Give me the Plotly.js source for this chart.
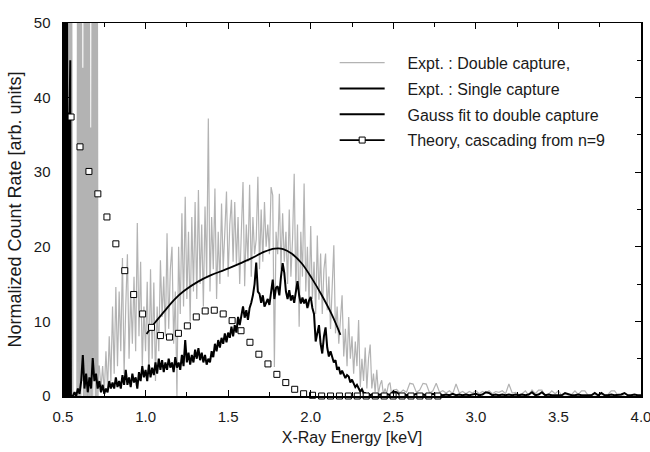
<!DOCTYPE html>
<html>
<head>
<meta charset="utf-8">
<script src="https://cdn.plot.ly/plotly-3.0.1.min.js"></script>
<style>html,body{margin:0;padding:0;background:#fff;}#chart{width:650px;height:452px;}</style>
</head>
<body>
<div id="chart"></div>
<script>
// Spectrum channels: low-energy part every 0.004 keV, main part every 0.01 keV, tail every 0.02 keV
const grayLowStart = 0.500, lowStep = 0.004;
const grayLowCounts = [
  60, 0, 60, 0, 60, 0, 60, 0, 60, 0, 60, 0, 60,
  60, 0,
  0, 0, 0.5, 0, 0, 0.5, 0,
  60, 0, 60, 0, 60, 0, 60, 2, 44, 0, 60, 0, 60, 0, 60, 0,
  60, 0, 60, 0, 36, 0, 60, 0, 60, 3, 60, 0, 60, 0, 60, 0,
  4
];
const grayMainStart = 0.72, mainStep = 0.01;
const grayMainCounts = [
  4, 1, 4, 0.5, 6, 1, 8, 2,
  12, 3, 14.6, 4, 14, 6, 18.5, 3, 12, 19,
  5, 14, 7, 16, 6, 23.2, 8, 18, 4, 12,
  6, 15.3, 3, 17, 5, 15.2, 2, 12, 6, 18.2,
  10.6, 16, 8, 21.8, 9, 17, 20, 7, 14, 0,
  20, 11, 24.5, 12, 26.7, 13, 22, 10, 24, 14,
  26, 13, 27.6, 15, 23, 12, 25.4, 16, 37.2, 14,
  24, 17, 27.8, 13, 22, 15, 25.8, 17, 22, 27.4,
  16, 23, 26.3, 18, 26, 17.6, 24, 15, 22, 28.7,
  14.7, 23, 18, 28.3, 16, 24, 19, 21, 29.4, 17,
  25, 18, 26, 20, 23, 19, 28, 26.9, 3.9, 22,
  19, 27.1, 17, 24.5, 18, 22, 15, 25, 16, 21,
  29.8, 14, 23, 9.3, 22, 16, 28.5, 14, 20, 12,
  22.8, 13, 18, 11, 21.5, 12.9, 19.1, 11, 17, 19.1,
  11.5, 16, 9, 14, 20.2, 8.4, 12, 7, 11, 13.5,
  5.3, 9, 4, 10.6, 5, 8, 3, 7.3, 4, 10.2,
  1.2, 5, 2, 6.5, 1, 5, 6.9, 1, 3, 0.5,
  3.5, 0.3, 1.5, 2.1, 0.2, 1, 0.3, 1.5, 1.8, 0.2,
  0.8
];
const grayTailStart = 2.52, tailStep = 0.02;
const grayTailCounts = [
  0.9, 0.4, 0.8, 0.5, 1.7, 1.6, 0.5, 0.8, 1.7, 1.6,
  0.4, 0.7, 1.7, 0.5, 0.7, 0.4, 0.7, 0.3, 1.6, 0.4,
  0.6, 0.3, 0.6, 0.4, 0.7, 0.3, 0.6, 0.4, 0.7, 0.3,
  0.6, 0.5, 0.7, 0.3, 1.6, 0.4, 0.5, 0.2, 0.3, 0.7,
  0.1, 0.8, 0.3, 0.8, 0.8, 0.1, 0.2, 0.7, 0.3, 0.7,
  0.1, 0.2, 0.1, 0.2, 0.7, 0.2, 0.7, 0.7, 0.1, 0.2,
  0.1, 0.1, 0.2, 0.1, 0.2, 0.7, 0.7, 0.1, 0.1, 0.1
];
const blackLowStart = 0.500;
const blackLowCounts = [60, 0, 60, 0, 60, 0, 60, 0, 38, 0, 38, 45, 0];
const blackMainStart = 0.55;
const blackMainCounts = [
  0, 0, 0.5, 0, 1,
  0.3, 2, 5.5, 1, 3, 0.5, 2.5, 1, 5.1, 2,
  3, 1, 2, 0.5, 1.5, 0.3, 1, 0.5, 2, 1,
  1.8, 1, 2.5, 1.2, 2, 1, 2.8, 1.5, 3.5, 1.5,
  2.5, 1.2, 3, 1.8, 2.5, 1, 3.2, 2, 4, 2.5,
  3.5, 2, 4.2, 2.5, 3.8, 2.8, 4.5, 3, 5, 3.5,
  4.8, 3.2, 4.5, 3.5, 5, 3.8, 4.5, 3.2, 5.2, 3.8,
  4.5, 3.5, 5.5, 4, 7.5, 4.5, 5.8, 4.2, 5.5, 4.5,
  6.2, 5, 6.4, 4.8, 5.8, 4.5, 5.5, 4.2, 5, 4.5,
  6, 5.2, 7, 6, 7.5, 6.5, 7.8, 7, 8.4, 7.2,
  8.5, 7.8, 9.3, 8, 9.5, 8.5, 10.6, 9.5, 11, 12,
  10.5, 11.5, 10.2, 11.8, 12.5, 13.5, 15, 17.9, 14, 13.7,
  12.5, 13.5, 12, 12.5, 13, 12.2, 14, 15.6, 13, 14.5,
  14.7, 13.5, 16, 17.8, 16.5, 14, 13, 14.2, 12.8, 13.5,
  12.5, 14, 15.4, 13.5, 12.4, 13.2, 12.4, 13, 11.8, 12.8,
  13.3, 11.8, 11, 7.3, 8.4, 9.5, 7, 5.7, 8, 9.2,
  6.5, 5.3, 6, 5.1, 4.5, 4.8, 3.5, 3.9, 2.9, 3.4,
  3.0, 2.4, 2.8, 2.6, 1.8, 2.2, 1.7, 1.2, 1.5, 1.0,
  0.6, 0.9, 0.4, 0.4, 0.2, 0.3, 0.1, 0.2, 0.0, 0.2,
  0.1
];
const blackTailStart = 2.42;
const blackTailCounts = [
  0.2, 0.1, 0.3, 0.1, 0.6, 0.5, 0.2, 0.3, 0.1, 0.2,
  0.1, 0.3, 0.1, 0.2, 0.1, 0.2, 0.3, 0.1, 0.2, 0.1,
  0.2, 0.1, 0.3, 0.1, 0.2, 0.1, 0.2, 0.1, 0.2, 0.3,
  0.1, 0.2, 0.5, 0.4, 0.1, 0.2, 0.1, 0.2, 0.1, 0.2,
  0.1, 0.2, 0.1, 0.2, 0.1, 0.2, 0.5, 0.1, 0.2, 0.5,
  0.1, 0.2, 0.1, 0.1, 0.2, 0.1, 0.4, 0.2, 0.1, 0.1,
  0.2, 0.1, 0.1, 0.2, 0.1, 0.4, 0.1, 0.4, 0.1, 0.1,
  0.2, 0.1, 0.1, 0.2, 0.4, 0.1, 0.1, 0.2, 0.1, 0.1
];
const gaussEnergy = [1.006, 1.05, 1.112, 1.173, 1.234, 1.315, 1.396, 1.478, 1.559, 1.64, 1.721, 1.782, 1.833, 1.884, 1.945, 2.006, 2.067, 2.128, 2.18];
const gaussCounts = [8.3, 9.65, 11.3, 12.9, 14.1, 15.3, 16.2, 16.9, 17.65, 18.45, 19.35, 19.75, 19.7, 19.1, 17.8, 15.8, 13.5, 10.9, 8.2];
const theoryEnergy = [0.549, 0.603, 0.657, 0.711, 0.766, 0.820, 0.874, 0.928, 0.982, 1.036, 1.090, 1.145, 1.199, 1.253, 1.307, 1.361, 1.416, 1.470, 1.524, 1.578, 1.632, 1.686, 1.741, 1.795, 1.849, 1.903, 1.957, 2.011, 2.066, 2.120, 2.174, 2.228, 2.282, 2.336, 2.391, 2.445, 2.499, 2.553, 2.607, 2.661, 2.715, 2.770];
const theoryCounts = [37.4, 33.4, 30.1, 27.1, 24.0, 20.4, 16.8, 13.6, 11.0, 9.2, 8.1, 7.9, 8.4, 9.4, 10.6, 11.4, 11.5, 11.0, 10.1, 8.75, 7.2, 5.6, 4.3, 2.9, 1.8, 0.9, 0.3, 0.1, 0, 0, 0, 0, 0, 0, 0, 0, 0, 0, 0, 0, 0, 0];
const xTickVals = [0.5, 1.0, 1.5, 2.0, 2.5, 3.0, 3.5, 4.0];
const xTickText = ['0.5', '1.0', '1.5', '2.0', '2.5', '3.0', '3.5', '4.0'];
const legendNames = ['Expt. : Double capture,', 'Expt. : Single capture', 'Gauss fit to double capture', 'Theory, cascading from n=9'];

function channels(start, step, n) {
  const out = [];
  for (let i = 0; i < n; i++) out.push(+(start + i * step).toFixed(4));
  return out;
}
const grayX = channels(grayLowStart, lowStep, grayLowCounts.length)
  .concat(channels(grayMainStart, mainStep, grayMainCounts.length))
  .concat(channels(grayTailStart, tailStep, grayTailCounts.length));
const grayY = grayLowCounts.concat(grayMainCounts, grayTailCounts);
const blackX = channels(blackLowStart, lowStep, blackLowCounts.length)
  .concat(channels(blackMainStart, mainStep, blackMainCounts.length))
  .concat(channels(blackTailStart, tailStep, blackTailCounts.length));
const blackY = blackLowCounts.concat(blackMainCounts, blackTailCounts);

const FONT = 'Liberation Sans, Arial, Helvetica, sans-serif';
const PAD = '\u00a0\u00a0\u00a0\u00a0';
const traces = [
  {x: grayX, y: grayY, type: 'scatter', mode: 'lines', name: PAD + legendNames[0], legendgroup: 'a',
   line: {color: '#b3b3b3', width: 1.2}},
  {x: blackX, y: blackY, type: 'scatter', mode: 'lines', name: PAD + legendNames[1], legendgroup: 'b',
   line: {color: '#000000', width: 2}},
  {x: gaussEnergy, y: gaussCounts, type: 'scatter', mode: 'lines', name: PAD + legendNames[2], legendgroup: 'c',
   line: {color: '#000000', width: 1.8, shape: 'spline'}},
  {x: theoryEnergy, y: theoryCounts, type: 'scatter', mode: 'markers', showlegend: false, cliponaxis: false,
   marker: {symbol: 'square', size: 6, color: '#ffffff', line: {color: '#000000', width: 1}}},
  {x: [null], y: [null], type: 'scatter', mode: 'lines+markers', name: PAD + legendNames[3], legendgroup: 'd',
   line: {color: '#000000', width: 1.8},
   marker: {symbol: 'square', size: 6, color: '#ffffff', line: {color: '#000000', width: 1}}}
];

const axisCommon = {
  showline: true, linecolor: '#000', linewidth: 1.5, mirror: 'allticks',
  ticks: 'inside', ticklen: 6, tickwidth: 1, tickcolor: '#000',
  showgrid: false, zeroline: false, fixedrange: true, ticklabeloverflow: 'allow',
  tickfont: {family: FONT, size: 15, color: '#1a1a1a'}
};
const layout = {
  width: 650, height: 452,
  margin: {l: 63, r: 9, t: 23, b: 56},
  paper_bgcolor: '#fff', plot_bgcolor: '#fff',
  font: {family: FONT, color: '#1a1a1a'},
  showlegend: true,
  legend: {x: 0.47, y: 0.939, xanchor: 'left', yanchor: 'top', bgcolor: 'rgba(0,0,0,0)',
           font: {family: FONT, size: 16, color: '#1a1a1a'}, itemwidth: 45,
           traceorder: 'grouped', tracegroupgap: 2},
  xaxis: Object.assign({}, axisCommon, {
    range: [0.5, 4.0], tickvals: xTickVals, ticktext: xTickText,
    minor: {dtick: 0.25, tick0: 0.5, ticks: 'inside', ticklen: 4, tickcolor: '#000'},
    ticklabelstandoff: 6,
    title: {text: 'X-Ray Energy [keV]', font: {family: FONT, size: 16, color: '#1a1a1a'}, standoff: 8}
  }),
  yaxis: Object.assign({}, axisCommon, {
    range: [0, 50], dtick: 10, tick0: 0,
    minor: {dtick: 5, ticks: 'inside', ticklen: 4, tickcolor: '#000'},
    ticklabelstandoff: 8,
    title: {text: 'Normalized Count Rate [arb. units]', font: {family: FONT, size: 18, color: '#1a1a1a'}, standoff: 7}
  })
};
Plotly.newPlot('chart', traces, layout, {displayModeBar: false, staticPlot: true});
</script>
</body>
</html>
